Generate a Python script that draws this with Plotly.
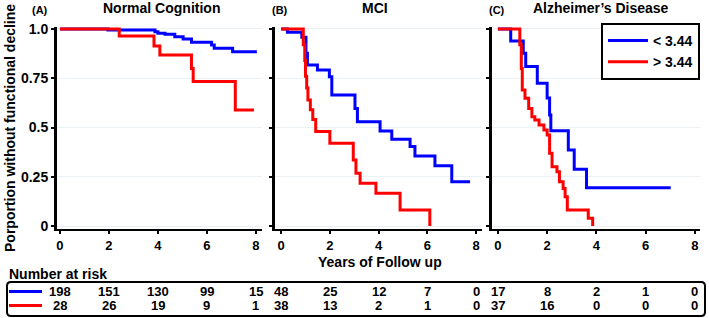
import plotly.graph_objects as go

# ---------------- data ----------------
panels = ["Normal Cognition", "MCI", "Alzheimer\u2019s Disease"]
panel_tags = ["(A)", "(B)", "(C)"]
group_names = ["< 3.44", "> 3.44"]

nc_lo_t = [0, 1.96, 3.88, 4.0, 4.29, 4.69, 5.03, 5.37, 6.19, 6.30, 7.05, 8.04]
nc_lo_s = [1.0, 0.995, 0.986, 0.978, 0.973, 0.961, 0.949, 0.932, 0.919, 0.902, 0.885, 0.885]
nc_hi_t = [0, 2.42, 3.84, 4.08, 5.37, 5.44, 7.16, 7.92]
nc_hi_s = [1.0, 0.964, 0.914, 0.868, 0.80, 0.733, 0.589, 0.589]

mci_lo_t = [0, 0.26, 0.85, 1.02, 1.08, 1.49, 1.98, 2.08, 3.03, 3.13, 4.06, 4.54, 5.29, 5.49, 6.31, 7.0, 7.75]
mci_lo_s = [1.0, 0.983, 0.958, 0.877, 0.817, 0.792, 0.758, 0.665, 0.597, 0.529, 0.482, 0.440, 0.403, 0.355, 0.306, 0.225, 0.225]
mci_hi_t = [0, 0.91, 0.97, 1.0, 1.05, 1.1, 1.2, 1.3, 1.42, 2.0, 2.96, 3.07, 3.24, 3.89, 4.88, 6.1]
mci_hi_s = [1.0, 0.92, 0.84, 0.76, 0.70, 0.64, 0.59, 0.54, 0.48, 0.42, 0.335, 0.268, 0.217, 0.166, 0.081, 0.0]

ad_lo_t = [0, 0.52, 1.03, 1.13, 1.6, 2.0, 2.1, 2.15, 2.86, 3.1, 3.6, 7.02]
ad_lo_s = [1.0, 0.939, 0.877, 0.809, 0.724, 0.65, 0.563, 0.484, 0.386, 0.288, 0.194, 0.194]
ad_hi_t = [0, 0.89, 0.95, 0.99, 1.1, 1.25, 1.38, 1.5, 1.67, 1.87, 2.0, 2.1, 2.2, 2.4, 2.5, 2.65, 2.73, 2.82, 3.67, 3.85]
ad_hi_s = [1.0, 0.92, 0.80, 0.69, 0.648, 0.597, 0.555, 0.538, 0.513, 0.487, 0.462, 0.369, 0.301, 0.276, 0.225, 0.191, 0.149, 0.081, 0.039, 0.0]

risk_times = [0, 2, 4, 6, 8]
nc_risk_lo = [198, 151, 130, 99, 15]
nc_risk_hi = [28, 26, 19, 9, 1]
mci_risk_lo = [48, 25, 12, 7, 0]
mci_risk_hi = [38, 13, 2, 1, 0]
ad_risk_lo = [17, 8, 2, 1, 0]
ad_risk_hi = [37, 16, 0, 0, 0]

y_tickvals = [0, 0.25, 0.5, 0.75, 1.0]
y_ticktext = ["0", "0.25", "0.5", "0.75", "1.0"]
x_tickvals = [0, 2, 4, 6, 8]

# ---------------- figure ----------------
W, H = 709, 318
FONT = "Liberation Sans"
BLUE, RED = "#0000FF", "#FF0000"

def px(x):
    return x / W

def py(y):
    return 1 - y / H

def fnt(size):
    return dict(family=FONT, size=size, color="black", weight="bold")

curves = [
    (nc_lo_t, nc_lo_s, nc_hi_t, nc_hi_s),
    (mci_lo_t, mci_lo_s, mci_hi_t, mci_hi_s),
    (ad_lo_t, ad_lo_s, ad_hi_t, ad_hi_s),
]
risks = [(nc_risk_lo, nc_risk_hi), (mci_risk_lo, mci_risk_hi), (ad_risk_lo, ad_risk_hi)]
x_domains = [(57, 262), (275, 482), (492, 700)]
x_ranges = [(-0.12, 8.25), (-0.25, 8.24), (-0.24, 8.21)]
y_dom = [py(229), py(27)]
y_range = [-0.015, 1.01]

fig = go.Figure()
for i, (lt, ls, ht, hs) in enumerate(curves):
    xa = "x" if i == 0 else f"x{i+1}"
    ya = "y" if i == 0 else f"y{i+1}"
    fig.add_trace(go.Scatter(x=lt, y=ls, mode="lines", line=dict(color=BLUE, width=3, shape="hv"),
                             name=group_names[0], showlegend=(i == 0), xaxis=xa, yaxis=ya,
                             hoverinfo="skip"))
    fig.add_trace(go.Scatter(x=ht, y=hs, mode="lines", line=dict(color=RED, width=3, shape="hv"),
                             name=group_names[1], showlegend=(i == 0), xaxis=xa, yaxis=ya,
                             hoverinfo="skip"))

layout = dict(
    width=W, height=H, autosize=False,
    margin=dict(l=0, r=0, t=0, b=0, pad=0, autoexpand=False),
    paper_bgcolor="white", plot_bgcolor="white",
    font=fnt(13),
    legend=dict(x=px(700), y=py(23), xanchor="right", yanchor="top",
                bgcolor="white", bordercolor="black", borderwidth=2,
                font=fnt(14), tracegroupgap=0, itemwidth=40),
)
for i in range(3):
    sfx = "" if i == 0 else str(i + 1)
    layout["xaxis" + sfx] = dict(
        domain=[px(x_domains[i][0]), px(x_domains[i][1])], range=list(x_ranges[i]),
        anchor="y" + sfx, tickvals=x_tickvals, showgrid=False, zeroline=False,
        showline=True, linecolor="black", linewidth=2, ticks="outside", ticklen=3,
        tickwidth=2, tickcolor="black", tickfont=fnt(13), automargin=False)
    layout["yaxis" + sfx] = dict(
        domain=y_dom, range=y_range, anchor="x" + sfx,
        tickvals=y_tickvals, ticktext=y_ticktext, showticklabels=(i == 0),
        showgrid=True, gridcolor="#EAF0F4", gridwidth=1, zeroline=False,
        showline=True, linecolor="black", linewidth=3, ticks="outside", ticklen=3,
        tickwidth=2, tickcolor="black", tickfont=fnt(14), automargin=False)
fig.update_layout(**layout)

ann = []
title_x = [161.7, 375, 600.8]
tag_x = [39.5, 279.5, 497]
for i in range(3):
    ann.append(dict(text=panels[i], x=px(title_x[i]), y=py(8), xref="paper", yref="paper",
                    showarrow=False, xanchor="center", yanchor="middle", font=fnt(14)))
    ann.append(dict(text=panel_tags[i], x=px(tag_x[i]), y=py(10), xref="paper", yref="paper",
                    showarrow=False, xanchor="center", yanchor="middle", font=fnt(11)))
    xa = "x" if i == 0 else f"x{i+1}"
    lo, hi = risks[i]
    for t, a, b in zip(risk_times, lo, hi):
        ann.append(dict(text=str(a), x=t, y=py(291.5), xref=xa, yref="paper", showarrow=False,
                        xanchor="center", yanchor="middle", font=fnt(13)))
        ann.append(dict(text=str(b), x=t, y=py(305.5), xref=xa, yref="paper", showarrow=False,
                        xanchor="center", yanchor="middle", font=fnt(13)))

ann.append(dict(text="Porportion without functional decline", x=px(10), y=py(128), xref="paper",
                yref="paper", showarrow=False, textangle=-90, xanchor="center", yanchor="middle",
                font=fnt(14)))
ann.append(dict(text="Years of Follow up", x=px(380), y=py(261.5), xref="paper", yref="paper",
                showarrow=False, xanchor="center", yanchor="middle", font=fnt(14)))
ann.append(dict(text="Number at risk", x=px(7), y=py(274), xref="paper", yref="paper",
                showarrow=False, xanchor="left", yanchor="middle", font=fnt(14)))
fig.update_layout(annotations=ann)

# rounded box for risk table
x0, x1, y0, y1, r = 7, 705, 282, 316, 4
def P(x, y):
    return f"{px(x):.5f},{py(y):.5f}"
path = (f"M {P(x0 + r, y0)} L {P(x1 - r, y0)} Q {P(x1, y0)} {P(x1, y0 + r)} "
        f"L {P(x1, y1 - r)} Q {P(x1, y1)} {P(x1 - r, y1)} L {P(x0 + r, y1)} "
        f"Q {P(x0, y1)} {P(x0, y1 - r)} L {P(x0, y0 + r)} Q {P(x0, y0)} {P(x0 + r, y0)} Z")
shapes = [dict(type="path", path=path, xref="paper", yref="paper",
               line=dict(color="black", width=2))]
shapes.append(dict(type="line", xref="paper", yref="paper", x0=px(9), x1=px(42),
                   y0=py(291.5), y1=py(291.5), line=dict(color=BLUE, width=3)))
shapes.append(dict(type="line", xref="paper", yref="paper", x0=px(9), x1=px(42),
                   y0=py(305.5), y1=py(305.5), line=dict(color=RED, width=3)))
fig.update_layout(shapes=shapes)

fig.write_html("out.html", config={"displayModeBar": False, "staticPlot": True},
               post_script="document.body.style.margin='0';document.body.style.overflow='hidden';")
